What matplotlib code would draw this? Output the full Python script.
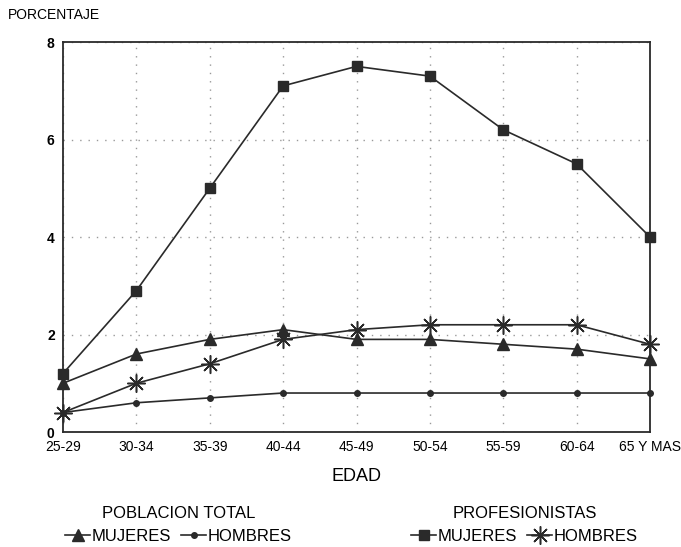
import matplotlib
matplotlib.use("Agg")
import matplotlib.pyplot as plt

plt.rcParams['font.family'] = ['Liberation Sans', 'DejaVu Sans']

edad = ['25-29', '30-34', '35-39', '40-44', '45-49', '50-54', '55-59', '60-64', '65 Y MAS']
pob_mujeres = [1.0, 1.6, 1.9, 2.1, 1.9, 1.9, 1.8, 1.7, 1.5]
pob_hombres = [0.4, 0.6, 0.7, 0.8, 0.8, 0.8, 0.8, 0.8, 0.8]
prof_mujeres = [1.2, 2.9, 5.0, 7.1, 7.5, 7.3, 6.2, 5.5, 4.0]
prof_hombres = [0.4, 1.0, 1.4, 1.9, 2.1, 2.2, 2.2, 2.2, 1.8]
yticks = [0, 2, 4, 6, 8]

fig = plt.figure(figsize=(6.81, 5.47), dpi=100)
ax = fig.add_axes([0.0925, 0.2102, 0.8620, 0.7130])

x = range(len(edad))
lc = '#2a2a2a'
l1, = ax.plot(x, pob_mujeres, color=lc, lw=1.2, marker='^', ms=9, mfc=lc, mec=lc, clip_on=False, zorder=3)
l2, = ax.plot(x, pob_hombres, color=lc, lw=1.2, marker='o', ms=4, mfc=lc, mec=lc, clip_on=False, zorder=3)
l3, = ax.plot(x, prof_mujeres, color=lc, lw=1.2, marker='s', ms=7, mfc=lc, mec=lc, clip_on=False, zorder=3)
l4, = ax.plot(x, prof_hombres, color=lc, lw=1.2, marker=(8, 2, 0), ms=13, mec=lc, mew=1.1, clip_on=False, zorder=3)

ax.set_xlim(0, len(edad) - 1)
ax.set_ylim(0, 8)
ax.set_xticks(list(x))
ax.set_xticklabels(edad, fontsize=10)
ax.set_yticks(yticks)
ax.set_yticklabels([str(v) for v in yticks], fontsize=10, fontweight='bold')
ax.tick_params(length=0, pad=6)
ax.grid(True, ls=(0, (1, 5)), color='#999999', lw=1)
for s in ax.spines.values():
    s.set_color(lc)
    s.set_linewidth(1.3)

ax.set_xlabel('EDAD', fontsize=13, labelpad=10)
fig.text(0.012, 0.972, 'PORCENTAJE', fontsize=10, va='center', ha='left')

leg1 = fig.legend([l1, l2], ['MUJERES', 'HOMBRES'], title='POBLACION TOTAL',
                  ncol=2, frameon=False, fontsize=12, title_fontsize=12,
                  handlelength=1.5, handletextpad=0.1, columnspacing=0.6,
                  loc='center', bbox_to_anchor=(0.262, 0.04))
leg2 = fig.legend([l3, l4], ['MUJERES', 'HOMBRES'], title='PROFESIONISTAS',
                  ncol=2, frameon=False, fontsize=12, title_fontsize=12,
                  handlelength=1.5, handletextpad=0.1, columnspacing=0.6,
                  loc='center', bbox_to_anchor=(0.77, 0.04))

fig.savefig('out.png', dpi=100)
